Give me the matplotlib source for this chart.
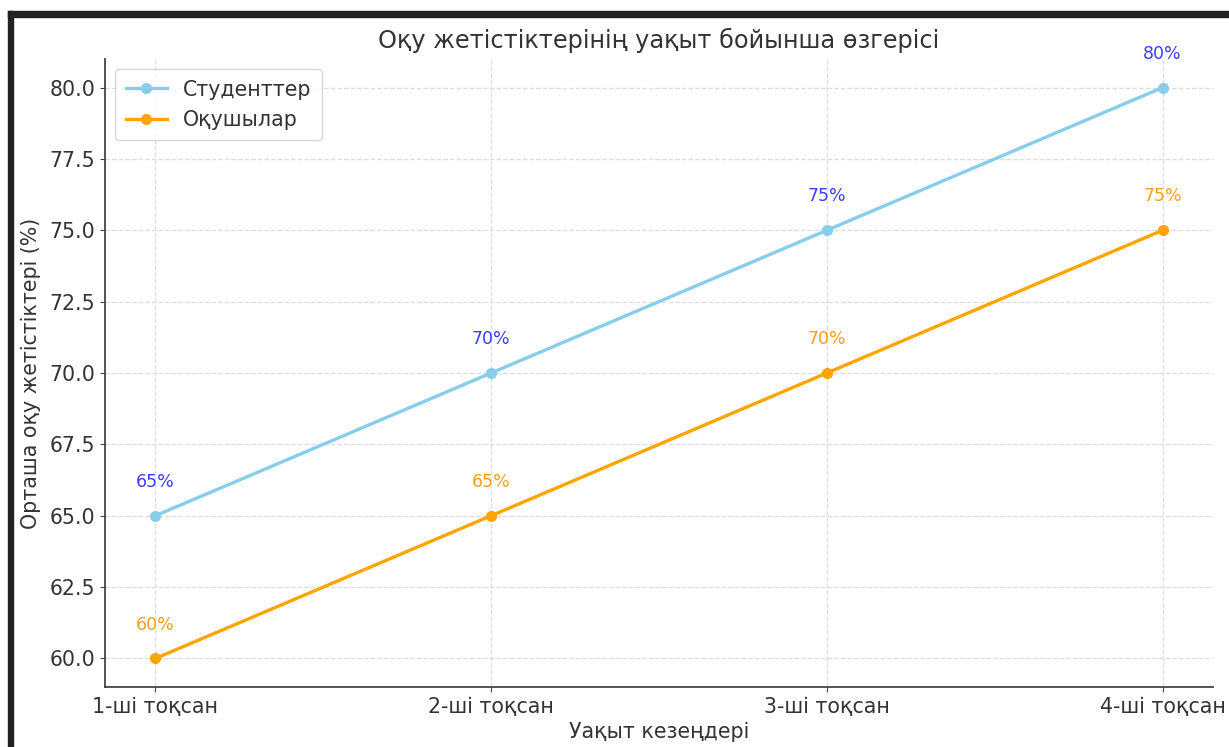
import matplotlib
matplotlib.use("Agg")
import matplotlib.pyplot as plt
from matplotlib.patches import Rectangle

periods = ["1-ші тоқсан", "2-ші тоқсан", "3-ші тоқсан", "4-ші тоқсан"]
students = [65, 70, 75, 80]
pupils = [60, 65, 70, 75]

plt.rcParams["font.family"] = ["DejaVu Sans"]
text_color = "#333333"

fig = plt.figure(figsize=(12.29, 7.47), dpi=100)
ax = fig.add_axes([105 / 1229, 60 / 747, 1108 / 1229, 628 / 747])

x = range(len(periods))
ax.plot(x, students, marker="o", color="#87CEEB", linewidth=2.4,
        markersize=7, label="Студенттер")
ax.plot(x, pupils, marker="o", color="#FFA500", linewidth=2.4,
        markersize=7, label="Оқушылар")

# подписи значений над точками
for i, v in enumerate(students):
    ax.text(i, v + 0.87, f"{v}%", ha="center", va="bottom",
            fontsize=12.5, color="#3c3cff")
for i, v in enumerate(pupils):
    ax.text(i, v + 0.87, f"{v}%", ha="center", va="bottom",
            fontsize=12.5, color="#ff9f1a")

ax.set_xticks(list(x))
ax.set_xticklabels(periods)
ax.set_title("Оқу жетістіктерінің уақыт бойынша өзгерісі",
             fontsize=17.3, color=text_color, pad=8)
ax.set_xlabel("Уақыт кезеңдері", fontsize=14.8, color=text_color, labelpad=4)
ax.set_ylabel("Орташа оқу жетістіктері (%)", fontsize=14.8,
              color=text_color, labelpad=6)
ax.tick_params(labelsize=14.8, colors="#444444", labelcolor=text_color)
ax.grid(True, linestyle="--", color="#dddddd", linewidth=0.9)
ax.set_axisbelow(True)
for side in ["top", "right"]:
    ax.spines[side].set_visible(False)
for side in ["left", "bottom"]:
    ax.spines[side].set_color("#444444")
    ax.spines[side].set_linewidth(1.3)

leg = ax.legend(loc="upper left", fontsize=14.8, frameon=True,
                labelcolor=text_color, borderpad=0.5)
leg.get_frame().set_edgecolor("#cccccc")

# screenshot frame
fig.patches.append(Rectangle((8 / 1229, 730 / 747), 1 - 8 / 1229, 6 / 747,
                             transform=fig.transFigure, color="#222222",
                             zorder=10))
fig.patches.append(Rectangle((8 / 1229, 0), 5 / 1229, 736 / 747,
                             transform=fig.transFigure, color="#222222",
                             zorder=10))

fig.savefig("out.png", dpi=100)
